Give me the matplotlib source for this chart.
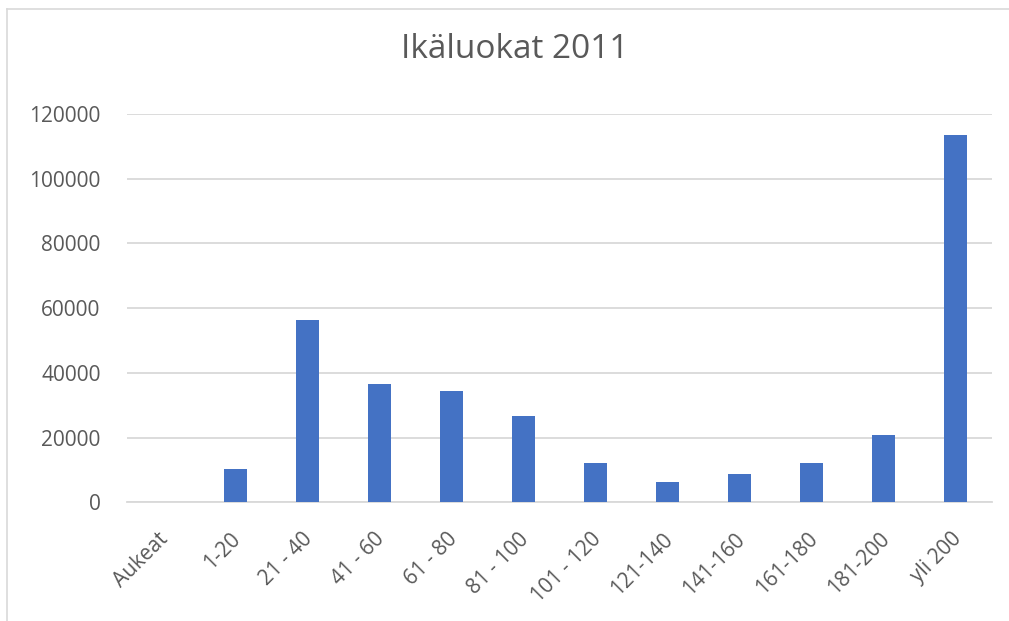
import numpy as np
import matplotlib
matplotlib.use("Agg")
import matplotlib.pyplot as plt
from matplotlib.lines import Line2D
from matplotlib.transforms import ScaledTranslation

# Ikäluokat 2011
categories = ["Aukeat", "1-20", "21 - 40", "41 - 60", "61 - 80", "81 - 100",
              "101 - 120", "121-140", "141-160", "161-180", "181-200", "yli 200"]
values = [0, 10300, 56300, 36700, 34500, 26700, 12100, 6400, 8600, 12100, 20900, 113500]
yticks = [0, 20000, 40000, 60000, 80000, 100000, 120000]

plt.rcParams['font.family'] = ['Open Sans', 'DejaVu Sans']
text_col = '#595959'
grid_col = '#D9D9D9'

fig = plt.figure(figsize=(10.09, 6.21), dpi=100)
ax = fig.add_axes([127 / 1009, 118.7 / 621, (992 - 127) / 1009, (502.3 - 114) / 621])

x = np.arange(len(categories))
ax.bar(x, values, width=0.32, color='#4472C4', zorder=3)

ax.set_xlim(-0.5, len(categories) - 0.5)
ax.set_ylim(0, 120000)
ax.set_yticks(yticks)
ax.set_yticklabels([str(v) for v in yticks], fontsize=15, color=text_col)
ax.set_xticks(x)
ax.set_xticklabels(categories, rotation=45, ha='right', rotation_mode='anchor',
                   fontsize=15, color=text_col)
ax.tick_params(axis='both', length=0)
ax.tick_params(axis='y', pad=19)
ax.tick_params(axis='x', pad=19)
# nudge category labels a bit to the left like the original
shift = ScaledTranslation(-5 / 100, 0, fig.dpi_scale_trans)
for lab in ax.get_xticklabels():
    lab.set_transform(lab.get_transform() + shift)

ax.grid(axis='y', color=grid_col, linewidth=1.3, zorder=0)
for s in ['top', 'right', 'left']:
    ax.spines[s].set_visible(False)
ax.spines['bottom'].set_color(grid_col)
ax.spines['bottom'].set_linewidth(1.3)

fig.text(515 / 1009, 1 - 50 / 621, "Ikäluokat 2011", ha='center', va='center',
         fontsize=24, color=text_col)

# light frame of the chart area (top and left edges visible)
fig.add_artist(Line2D([7 / 1009, 1.0], [1 - 9 / 621, 1 - 9 / 621], color='#D9D9D9', linewidth=1.2))
fig.add_artist(Line2D([7 / 1009, 7 / 1009], [0, 1 - 9 / 621], color='#D9D9D9', linewidth=1.2))

fig.savefig("out.png", dpi=100)
